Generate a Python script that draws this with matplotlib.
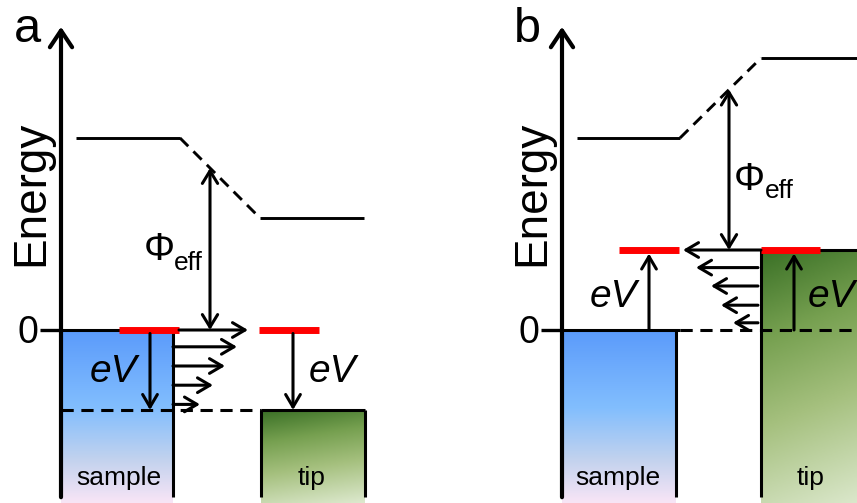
import numpy as np
import matplotlib.pyplot as plt
from matplotlib.colors import LinearSegmentedColormap

plt.rcParams['font.family'] = ['Liberation Sans', 'DejaVu Sans']

# ---- energies (eV), sample Fermi level = 0 ----
BIAS = 1.0
VAC_SAMPLE = 2.4
VAC_TIP_A = VAC_SAMPLE - BIAS
VAC_TIP_B = VAC_SAMPLE + BIAS
TIP_TOP_A = -BIAS          # tip band top, panel a
TIP_TOP_B = BIAS           # tip band top, panel b
LEVEL_A = 0.0              # red levels, panel a
LEVEL_B = BIAS             # red levels, panel b

# tunnelling arrows: energy and relative length
TUNNEL_E_A = [0.0, -0.21, -0.45, -0.69, -0.93]
TUNNEL_LEN_A = [69, 64, 52, 40, 27]
TUNNEL_E_B = [1.0, 0.78, 0.55, 0.31, 0.09]
TUNNEL_LEN_B = [78, 62, 47, 37, 25]

# vertical range of the drawing (energy units), x is in pixels
E_MIN, E_MAX = -2.1625, 4.125
E_FLOOR = -2.09
E_AXIS_TOP = 3.79
BAR_HALF = 0.044

fig = plt.figure(figsize=(8.57, 5.03), dpi=100)
ax = fig.add_axes([0, 0, 1, 1])
ax.axis('off')

sample_cmap = LinearSegmentedColormap.from_list(
    'sample', [(0, '#5b9bfb'), (0.45, '#82befe'), (0.75, '#c2d2ee'), (1, '#f8e5f6')])
tip_cmap = LinearSegmentedColormap.from_list(
    'tip', [(0, '#3a7026'), (0.3, '#76a050'), (0.6, '#a5c07e'), (1, '#dde9ce')])


def gradient_box(x0, x1, top, cmap, tilt=0.0):
    fy = np.linspace(0, 1, 200)[:, None]
    fx = np.linspace(0, 1, 60)[None, :]
    img = np.clip(fy * (1 - tilt) + fx * tilt, 0, 1)
    ax.imshow(img, cmap=cmap, vmin=0, vmax=1, extent=(x0, x1, E_MIN, top),
              origin='upper', aspect='auto', interpolation='bilinear', zorder=0)


def arrow(x0, e0, x1, e1, hl=9, hw=5.3, lw=2.2, style='->'):
    ax.annotate('', xy=(x1, e1), xytext=(x0, e0),
                arrowprops=dict(arrowstyle=f'{style},head_length={hl},head_width={hw}',
                                lw=lw, color='k', shrinkA=0, shrinkB=0,
                                mutation_scale=1), zorder=5)


def line(xs, es, lw=2.2, ls='-', color='k', z=3):
    ax.plot(xs, es, color=color, lw=lw, ls=ls, zorder=z, solid_capstyle='butt')


def red_bar(x0, x1, e):
    ax.plot([x0, x1], [e, e], color='#ff0000', lw=5, solid_capstyle='butt', zorder=4)


def vacuum(x_flat1, x_kink1, x_kink2, x_flat2, e1, e2, x_phi, e_from):
    line([x_flat1, x_kink1], [e1, e1], lw=2.1)
    line([x_kink1, x_kink2], [e1, e2], lw=2.1, ls=(0, (4, 2.5)))
    line([x_kink2, x_flat2], [e2, e2], lw=2.1)
    e_top = np.interp(x_phi, [x_kink1, x_kink2], [e1, e2]) if x_kink2 > x_kink1 else e1
    arrow(x_phi, e_from, x_phi, e_top, hl=9, hw=5.5, style='<->')


def labels(x_axis, letter, x_letter):
    ax.text(x_letter, 3.6, letter, fontsize=35, ha='center', va='baseline')
    ax.text(x_axis - 30, 1.71, 'Energy', fontsize=33, rotation=90, ha='center', va='center')
    ax.text(x_axis - 33, -0.16, '0', fontsize=27, ha='center', va='baseline')
    arrow(x_axis, E_FLOOR, x_axis, E_AXIS_TOP, hl=12, hw=8, lw=3)
    line([x_axis - 21, x_axis], [0, 0], lw=2.4)


# ================= panel a =================
labels(61, 'a', 27)
gradient_box(61, 173, 0, sample_cmap)
line([173, 173], [0, E_FLOOR])
line([61, 173], [0, 0])
gradient_box(261, 365, TIP_TOP_A, tip_cmap, tilt=0.15)
line([261, 261], [TIP_TOP_A, E_FLOOR])
line([365, 365], [TIP_TOP_A, E_FLOOR])
line([261, 365], [TIP_TOP_A, TIP_TOP_A])
line([61, 261], [TIP_TOP_A, TIP_TOP_A], ls=(0, (4, 2.5)))
red_bar(119, 179, LEVEL_A)
red_bar(259, 319, LEVEL_A)

for i, (e, ln) in enumerate(zip(TUNNEL_E_A, TUNNEL_LEN_A)):
    x0 = 179 if i == 0 else 173
    arrow(x0, e, x0 + ln, e)

arrow(150, LEVEL_A - BAR_HALF, 150, LEVEL_A - BIAS)
arrow(293, LEVEL_A - BAR_HALF, 293, LEVEL_A - BIAS)
vacuum(76, 180, 260, 364, VAC_SAMPLE, VAC_TIP_A, 210, LEVEL_A)

ax.text(113, -0.65, 'eV', fontsize=28, style='italic', ha='center', va='baseline')
ax.text(332, -0.65, 'eV', fontsize=28, style='italic', ha='center', va='baseline')
ax.text(159, 0.875, 'Φ', fontsize=28, ha='center', va='baseline')
ax.text(174, 0.75, 'eff', fontsize=19, ha='left', va='baseline')
ax.text(119, -1.94, 'sample', fontsize=19, ha='center', va='baseline')
ax.text(312, -1.94, 'tip', fontsize=19, ha='center', va='baseline')

# ================= panel b =================
labels(562, 'b', 527)
gradient_box(562, 676, 0, sample_cmap)
line([676, 676], [0, E_FLOOR])
line([562, 680], [0, 0])
line([680, 857], [0, 0], ls=(0, (4, 2.5)))
gradient_box(761, 870, TIP_TOP_B, tip_cmap, tilt=0.15)
line([761, 761], [TIP_TOP_B, E_FLOOR])
line([761, 857], [TIP_TOP_B, TIP_TOP_B])
red_bar(619, 679, LEVEL_B)
red_bar(761, 820, LEVEL_B)

for i, (e, ln) in enumerate(zip(TUNNEL_E_B, TUNNEL_LEN_B)):
    x0 = 761 if i == 0 else 758
    arrow(x0, e, x0 - ln, e)

arrow(649, 0, 649, LEVEL_B - BAR_HALF)
arrow(794, 0, 794, LEVEL_B - BAR_HALF)
vacuum(577, 680, 761, 857, VAC_SAMPLE, VAC_TIP_B, 729, LEVEL_B)

ax.text(613, 0.29, 'eV', fontsize=28, style='italic', ha='center', va='baseline')
ax.text(808, 0.29, 'eV', fontsize=28, style='italic', ha='left', va='baseline')
ax.text(749, 1.75, 'Φ', fontsize=28, ha='center', va='baseline')
ax.text(765, 1.65, 'eff', fontsize=19, ha='left', va='baseline')
ax.text(618, -1.94, 'sample', fontsize=19, ha='center', va='baseline')
ax.text(811, -1.94, 'tip', fontsize=19, ha='center', va='baseline')

ax.set_xlim(0, 857)
ax.set_ylim(E_MIN, E_MAX)
fig.savefig('out.png', dpi=100)
